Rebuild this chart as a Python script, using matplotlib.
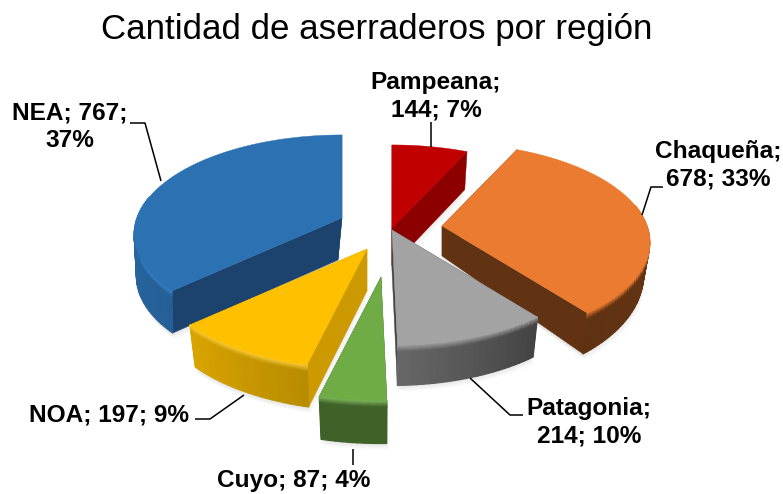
import numpy as np
import matplotlib
matplotlib.use("Agg")
import matplotlib.pyplot as plt
from matplotlib.collections import PolyCollection
from matplotlib.colors import to_rgb

### Data
regions = ["Pampeana", "Chaqueña", "Patagonia", "Cuyo", "NOA", "NEA"]
values = [144, 678, 214, 87, 197, 767]
percents = [7, 33, 10, 4, 9, 37]
label_breaks = [("\n", " "), ("\n", " "), ("\n", " "), (" ", " "), (" ", " "), (" ", "\n")]

### Style per slice
face_colors = ["#C00000", "#EA7B30", "#A3A3A3", "#6FAC46", "#FFC000", "#2C72B2"]
cut_colors = ["#8C0000", "#613312", "#454545", "#3F6229", "#CC9A00", "#1B436E"]
rim_start = ["#8C0000", "#6E3A15", "#444444", "#3F6229", "#B98C00", "#255F96"]
rim_end = ["#8C0000", "#5F3212", "#666666", "#3F6229", "#D9A400", "#2F76B8"]
bevel_colors = ["#B00000", "#EA7B30", "#A3A3A3", "#86BE60", "#FFD040", "#3A88D0"]
apex_x = [392, 442, 392, 381, 367, 342]
apex_y = [228, 226, 230, 277, 249, 218]
radius_scale = [1.0, 1.0, 1.0, 1.07, 1.04, 1.0]
depths = [38, 30, 40, 43, 42, 42]
depth_gain = [0, 0.46, 0, 0, 0, 0]
bottom_dx = [0, 0, 0, 0, 0, -4]
draw_order = [0, 5, 1, 4, 2, 3]

label_x = [436, 718, 589, 294, 109, 70]
label_y = [96, 165, 422, 480, 415, 127]
leader_x = [[431, 431], [663, 651, 642], [523, 510, 470], [353, 353], [195, 210, 244], [130, 145, 161]]
leader_y = [[122, 147], [187, 187, 215], [415, 415, 378], [449, 465], [419, 419, 395], [123, 123, 181]]

### Pie projection
RX = 205
RY = 96.6
PERSP = 0.163
BEVEL = 6


def project(angle, scale):
    # angle clockwise from 12 o'clock, seen from above with perspective
    u = np.sin(angle)
    v = -np.cos(angle)
    w = 1 - PERSP * v
    return RX * scale * u / w, RY * scale * v / w, v


def mix(c1, c2, t):
    a = np.array(to_rgb(c1))
    b = np.array(to_rgb(c2))
    return tuple(a + (b - a) * t)


fig = plt.figure(figsize=(7.83, 4.94), dpi=100)
ax = fig.add_axes([0, 0, 1, 1])
ax.set_xlim(0, 783)
ax.set_ylim(494, 0)
ax.axis("off")

plt.rcParams["font.family"] = ["Liberation Sans", "DejaVu Sans"]

edges = np.concatenate([[0], np.cumsum(values)]) / np.sum(values) * 2 * np.pi

for i in draw_order:
    th = np.linspace(edges[i], edges[i + 1], max(int((edges[i + 1] - edges[i]) * 40), 8))
    dx, dy, v = project(th, radius_scale[i])
    x_top = apex_x[i] + dx
    y_top = apex_y[i] + dy
    d = depths[i] * (1 + depth_gain[i] * np.clip(v, 0, 1))
    x_bot = apex_x[i] + bottom_dx[i] + dx * 0.97
    y_bot = y_top + d
    ax_bot = apex_x[i] + bottom_dx[i]
    ay_bot = apex_y[i] + depths[i]

    # soft shadow under the slice
    outline_x = np.concatenate([[ax_bot], x_bot])
    outline_y = np.concatenate([[ay_bot], y_bot])
    for k in range(1, 6):
        ax.fill(outline_x + k * 0.8 - 2, outline_y + k * 1.2, color="k", alpha=0.018, lw=0, zorder=1)

    z = 2 + draw_order.index(i)

    # cut faces
    for j in (0, -1):
        ax.fill([apex_x[i], x_top[j], x_bot[j], ax_bot], [apex_y[i], y_top[j], y_bot[j], ay_bot],
                color=cut_colors[i], lw=0.3, zorder=z)

    # outer rim, split in small quads, only where it faces the viewer
    polys = []
    colors = []
    for n in range(len(th) - 1):
        if v[n] < -0.2 and v[n + 1] < -0.2:
            continue
        t = n / (len(th) - 2)
        rim = mix(rim_start[i], rim_end[i], t)
        for layer in range(BEVEL + 1):
            if layer < BEVEL:
                f0 = layer / BEVEL * 7 / d[n]
                f1 = (layer + 1) / BEVEL * 7 / d[n]
                col = mix(bevel_colors[i], rim, (layer + 0.5) / BEVEL)
            else:
                f0 = 7 / d[n]
                f1 = 1
                col = rim
            polys.append([
                (x_top[n] + (x_bot[n] - x_top[n]) * f0, y_top[n] + (y_bot[n] - y_top[n]) * f0),
                (x_top[n + 1] + (x_bot[n + 1] - x_top[n + 1]) * f0, y_top[n + 1] + (y_bot[n + 1] - y_top[n + 1]) * f0),
                (x_top[n + 1] + (x_bot[n + 1] - x_top[n + 1]) * f1, y_top[n + 1] + (y_bot[n + 1] - y_top[n + 1]) * f1),
                (x_top[n] + (x_bot[n] - x_top[n]) * f1, y_top[n] + (y_bot[n] - y_top[n]) * f1),
            ])
            colors.append(col)
    ax.add_collection(PolyCollection(polys, facecolors=colors, edgecolors=colors, linewidths=0.9, zorder=z))

    # top face
    ax.fill(np.concatenate([[apex_x[i]], x_top]), np.concatenate([[apex_y[i]], y_top]),
            color=face_colors[i], lw=0.3, zorder=z)

### Leaders and labels
for lx, ly in zip(leader_x, leader_y):
    ax.plot(lx, ly, color="black", lw=1.1, zorder=20, solid_capstyle="butt")

for i, name in enumerate(regions):
    s1, s2 = label_breaks[i]
    txt = f"{name};{s1}{values[i]};{s2}{percents[i]}%"
    ax.text(label_x[i], label_y[i], txt, ha="center", va="center", fontsize=17.6,
            fontweight="bold", color="black", linespacing=1.25, zorder=21)

ax.text(377, 29, "Cantidad de aserraderos por región", ha="center", va="center",
        fontsize=25.1, color="black", zorder=21)

fig.savefig("out.png", dpi=100)
